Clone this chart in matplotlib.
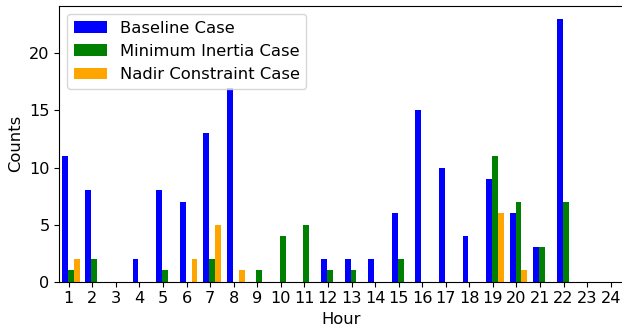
import numpy as np
import matplotlib
matplotlib.use("Agg")
import matplotlib.pyplot as plt

hours = np.arange(1, 25)

# counts per hour for each case
baseline = [11, 8, 0, 2, 8, 7, 13, 17, 0, 0, 0, 2, 2, 2, 6, 15, 10, 4, 9, 6, 3, 23, 0, 0]
min_inertia = [1, 2, 0, 0, 1, 0, 2, 0, 1, 4, 5, 1, 1, 0, 2, 0, 0, 0, 11, 7, 3, 7, 0, 0]
nadir = [2, 0, 0, 0, 0, 2, 5, 1, 0, 0, 0, 0, 0, 0, 0, 0, 0, 0, 6, 1, 0, 0, 0, 0]

series = [
    ("Baseline Case", baseline, "blue"),
    ("Minimum Inertia Case", min_inertia, "green"),
    ("Nadir Constraint Case", nadir, "orange"),
]

plt.rcParams["font.size"] = 11.8
plt.rcParams["xtick.labelsize"] = 11.6
plt.rcParams["ytick.labelsize"] = 11.6

W, H = 622, 332
fig = plt.figure(figsize=(W / 100, H / 100), dpi=100)
ax = fig.add_axes([59.3 / W, (H - 281.7) / H, (623 - 59.3) / W, (281.7 - 6) / H])

width = 0.25
for k, (label, vals, color) in enumerate(series):
    ax.bar(hours - 0.165 + k * width, vals, width, label=label, color=color)

ax.set_xticks(hours)
ax.set_xticklabels([str(h) for h in hours])
ax.set_xlim(0.6, 24.52)
ax.set_yticks([0, 5, 10, 15, 20])
ax.set_xlabel("Hour")
ax.set_ylabel("Counts")
ax.legend(loc="upper left")

fig.savefig("out.png", dpi=100)
